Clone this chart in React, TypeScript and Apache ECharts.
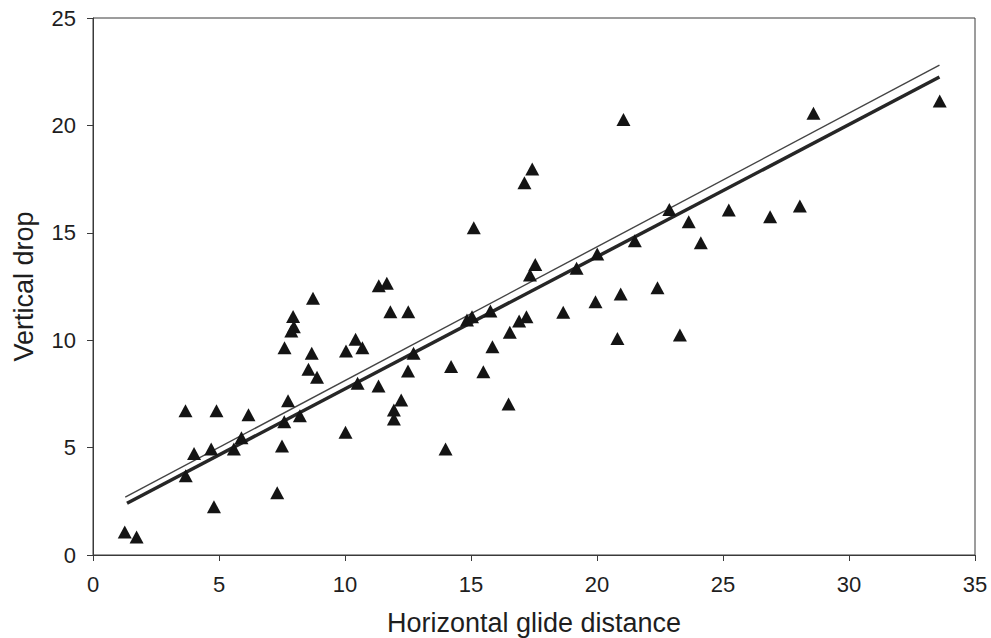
import React, { useEffect, useRef } from "react";
import * as echarts from "echarts";

const glideX = [
  1.26, 1.73, 3.67, 4.9, 6.17, 7.74, 4.01, 4.69, 5.59, 5.89, 3.68, 4.8, 7.31, 7.5, 7.59, 8.21, 10.02, 10.5, 11.33,
  8.73, 7.94, 7.97, 7.87, 7.6, 8.68, 8.55, 8.89, 11.34, 11.66, 10.04, 10.42, 10.69, 11.8, 12.51, 12.5, 12.72,
  12.23, 11.94, 11.94, 13.99, 14.21, 15.49, 15.85, 16.49, 16.54, 16.91, 17.2, 14.84, 15.04, 15.77, 17.55, 17.34,
  19.19, 20.01, 18.66, 19.94, 20.94, 22.4, 20.81, 17.43, 17.12, 15.11, 22.87, 21.5, 21.05, 28.59, 33.6, 23.64,
  25.23, 26.87, 28.05, 24.12, 23.29,
];
const dropY = [
  1.07, 0.84, 6.72, 6.72, 6.53, 7.18, 4.73, 4.93, 4.93, 5.46, 3.69, 2.25, 2.9, 5.07, 6.2, 6.48, 5.71, 8.0, 7.87,
  11.95, 11.1, 10.63, 10.43, 9.65, 9.39, 8.65, 8.27, 12.54, 12.65, 9.5, 10.04, 9.65, 11.33, 11.33, 8.57, 9.39,
  7.22, 6.75, 6.33, 4.93, 8.77, 8.53, 9.7, 7.03, 10.37, 10.89, 11.09, 10.94, 11.09, 11.36, 13.53, 13.04,
  13.35, 14.01, 11.3, 11.79, 12.15, 12.44, 10.08, 17.97, 17.33, 15.24, 16.08, 14.63, 20.28, 20.56, 21.14, 15.52,
  16.06, 15.75, 16.25, 14.54, 10.24,
];

// Fitted lines (end points)
const thinLineX = [1.28, 33.59];
const thinLineY = [2.69, 22.81];
const thickLineX = [1.35, 33.59];
const thickLineY = [2.41, 22.25];

const xTicks = [0, 5, 10, 15, 20, 25, 30, 35];
const yTicks = [0, 5, 10, 15, 20, 25];

export default function App() {
  const ref = useRef<HTMLDivElement>(null);
  useEffect(() => {
    if (!ref.current) return;
    const chart = echarts.init(ref.current, undefined, { renderer: "svg" });
    const font = "'Liberation Sans', Arial, sans-serif";
    const axisColor = "#3a3a3a";
    chart.setOption({
      animation: false,
      backgroundColor: "#ffffff",
      grid: {
        left: 93,
        right: 16,
        top: 18,
        bottom: 83,
        outerBoundsMode: "none",
        containLabel: false,
        show: true,
        borderColor: axisColor,
        borderWidth: 1,
        backgroundColor: "transparent",
      },
      xAxis: {
        type: "value",
        min: xTicks[0],
        max: xTicks[xTicks.length - 1],
        interval: 5,
        name: "Horizontal glide distance",
        nameLocation: "middle",
        nameGap: 54,
        nameTextStyle: { fontFamily: font, fontSize: 27, color: "#1e1e1e" },
        axisLine: { show: true, lineStyle: { color: axisColor, width: 1 } },
        axisTick: { show: true, length: 6, inside: false, lineStyle: { color: axisColor } },
        axisLabel: { fontFamily: font, fontSize: 22, color: "#1e1e1e", margin: 18 },
        splitLine: { show: false },
      },
      yAxis: {
        type: "value",
        min: yTicks[0],
        max: yTicks[yTicks.length - 1],
        interval: 5,
        name: "Vertical drop",
        nameLocation: "middle",
        nameGap: 56,
        nameRotate: 90,
        nameTextStyle: { fontFamily: font, fontSize: 27, color: "#1e1e1e" },
        axisLine: { show: true, lineStyle: { color: axisColor, width: 1 } },
        axisTick: { show: true, length: 6, inside: false, lineStyle: { color: axisColor } },
        axisLabel: { fontFamily: font, fontSize: 22, color: "#1e1e1e", margin: 17 },
        splitLine: { show: false },
      },
      series: [
        {
          type: "line",
          data: thickLineX.map((x, i) => [x, thickLineY[i]]),
          symbol: "none",
          lineStyle: { color: "#262626", width: 3.5 },
          z: 2,
        },
        {
          type: "line",
          data: thinLineX.map((x, i) => [x, thinLineY[i]]),
          symbol: "none",
          lineStyle: { color: "#444", width: 1.4 },
          z: 2,
        },
        {
          type: "scatter",
          data: glideX.map((x, i) => [x, dropY[i]]),
          symbol: "triangle",
          symbolSize: [14, 13],
          itemStyle: { color: "#141414", opacity: 1 },
          z: 3,
        },
      ],
    });
    return () => chart.dispose();
  }, []);
  return <div ref={ref} style={{ width: 991, height: 638, position: "absolute", left: 0, top: 0 }} />;
}
